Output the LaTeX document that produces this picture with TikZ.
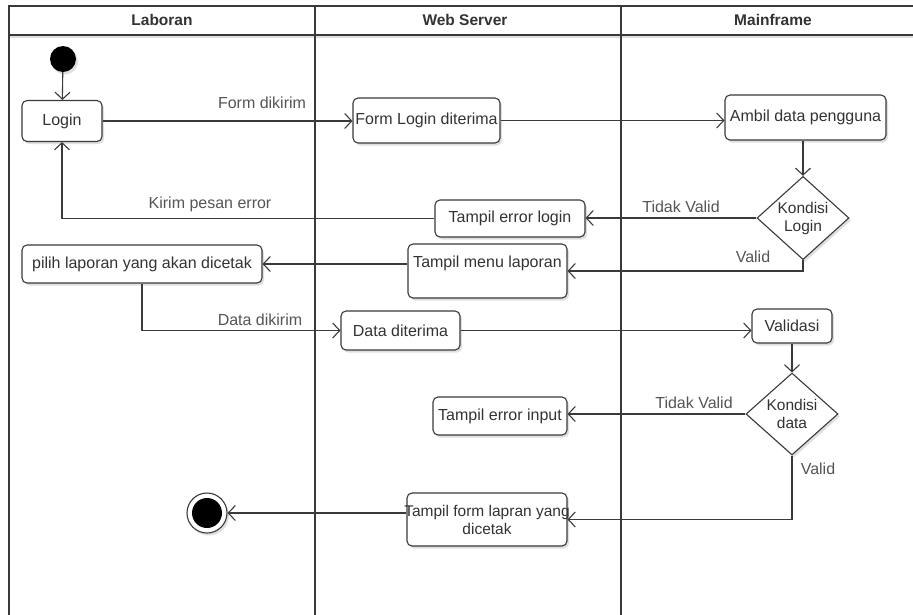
\documentclass[tikz,border=0pt]{standalone}
\usepackage{fontspec}
\setmainfont{Liberation Sans}
\usetikzlibrary{arrows.meta,shapes.geometric,shadows,calc}
\definecolor{ln}{HTML}{3A3A3A}
\definecolor{tx}{HTML}{333333}
\definecolor{lb}{HTML}{555555}
\tikzset{
  act/.style={draw=ln, line width=1.1pt, rounded corners=5pt, fill=white, text=tx,
    font=\fontsize{16}{18}\selectfont, inner sep=1pt, align=center,
    drop shadow={shadow xshift=2pt, shadow yshift=-2.5pt, opacity=0.25}},
  dec/.style={draw=ln, line width=1.1pt, diamond, fill=white, text=tx,
    font=\fontsize{15.5}{18}\selectfont, inner sep=0pt, align=center,
    drop shadow={shadow xshift=2pt, shadow yshift=-2.5pt, opacity=0.25}},
  flow/.style={draw=ln, line width=1.1pt, -{Straight Barb[length=7pt,width=15pt]}},
  lbl/.style={text=lb, font=\fontsize{16}{18}\selectfont, inner sep=0pt},
  hdr/.style={text=tx, font=\fontsize{15.5}{18}\selectfont\bfseries, inner sep=0pt},
  lane/.style={draw=ln, line width=1.1pt}
}
\begin{document}
\begin{tikzpicture}[x=1pt,y=-1pt]
\useasboundingbox (0,0) rectangle (913,614);
\fill[white] (0,0) rectangle (913,614);
% swimlanes
\begin{scope}
\clip (0,0) rectangle (913,614);
\fill[black!12] (9,35) rectangle (930,38);
\draw[lane] (930,6) -- (9,6) -- (9,640);
\draw[lane] (9,35) -- (930,35);
\draw[lane] (315,6) -- (315,640);
\draw[lane] (621,6) -- (621,640);
\end{scope}
\node[hdr] (h1) at (162,20) {Laboran};
\node[hdr] (h2) at (465,20) {Web Server};
\node[hdr] (h3) at (773,20) {Mainframe};

% nodes
\node[circle, fill=black, minimum size=26pt, inner sep=0pt,
  drop shadow={shadow xshift=2pt, shadow yshift=-2.5pt, opacity=0.25}] (start) at (63,59) {};
\node[act, minimum width=80pt, minimum height=41pt] (login) at (62,121) {Login};
\node[act, minimum width=147pt, minimum height=45pt] (formlogin) at (426.5,120.5) {\makebox[140pt]{Form Login diterima}};
\node[act, minimum width=161pt, minimum height=45pt] (ambil) at (805.5,117.5) {\makebox[150pt]{Ambil data pengguna}};
\node[dec, minimum width=92pt, minimum height=80pt] (kondlogin) at (803,218) {Kondisi\\Login};
\node[act, minimum width=150pt, minimum height=37pt] (errlogin) at (510,218.5) {Tampil error login};
\node[act, minimum width=159pt, minimum height=54pt, text height=11.5pt, text depth=18pt] (menu) at (487.5,271) {Tampil menu laporan};
\node[act, minimum width=240pt, minimum height=38pt] (pilih) at (142,264) {\makebox[230pt]{pilih laporan yang akan dicetak}};
\node[act, minimum width=119pt, minimum height=39pt] (datadit) at (400.5,330.5) {Data diterima};
\node[act, minimum width=80pt, minimum height=34pt] (validasi) at (792,326) {Validasi};
\node[dec, minimum width=92pt, minimum height=82pt] (konddata) at (792,414) {Kondisi\\data};
\node[act, minimum width=134pt, minimum height=38pt] (errinput) at (500,416) {\makebox[126pt]{Tampil error input}};
\node[act, minimum width=160pt, minimum height=53pt, font=\fontsize{15.5}{18}\selectfont] (tampilform) at (487,519.5) {\makebox[150pt]{Tampil form lapran yang}\\dicetak};
\node[circle, draw=ln, line width=1.1pt, fill=white, minimum size=40pt, inner sep=0pt,
  drop shadow={shadow xshift=2pt, shadow yshift=-2.5pt, opacity=0.25}] (end) at (207,513) {};
\node[circle, fill=black, minimum size=30pt, inner sep=0pt] (endin) at (207,513) {};

% connectors
\draw[flow] (start) -- (login);
\draw[flow] (login.east) -- (login.east -| formlogin.west);
\draw[flow] (formlogin.east) -- (formlogin.east -| ambil.west);
\draw[flow] (kondlogin.north |- ambil.south) -- (kondlogin.north);
\draw[flow] (kondlogin.west) -- (kondlogin.west -| errlogin.east);
\draw[flow] (errlogin.west) -| (login.south);
\draw[flow] (kondlogin.south) |- (menu.east);
\draw[flow] (menu.west |- pilih.east) -- (pilih.east);
\draw[flow] (pilih.south) |- (datadit.west);
\draw[flow] (datadit.east) -- (datadit.east -| validasi.west);
\draw[flow] (validasi.south) -- (konddata.north);
\draw[flow] (konddata.west) -- (konddata.west -| errinput.east);
\draw[flow] (konddata.south) |- (tampilform.east);
\draw[flow] (tampilform.west |- end.east) -- (end.east);

% labels
\node[lbl] (l1) at (262,103) {Form dikirim};
\node[lbl] (l2) at (210,204) {Kirim pesan error};
\node[lbl] (l3) at (681,207) {Tidak Valid};
\node[lbl] (l4) at (753,257) {Valid};
\node[lbl] (l5) at (260,320) {Data dikirim};
\node[lbl] (l6) at (694,403) {Tidak Valid};
\node[lbl] (l7) at (818,469) {Valid};
\end{tikzpicture}
\end{document}
